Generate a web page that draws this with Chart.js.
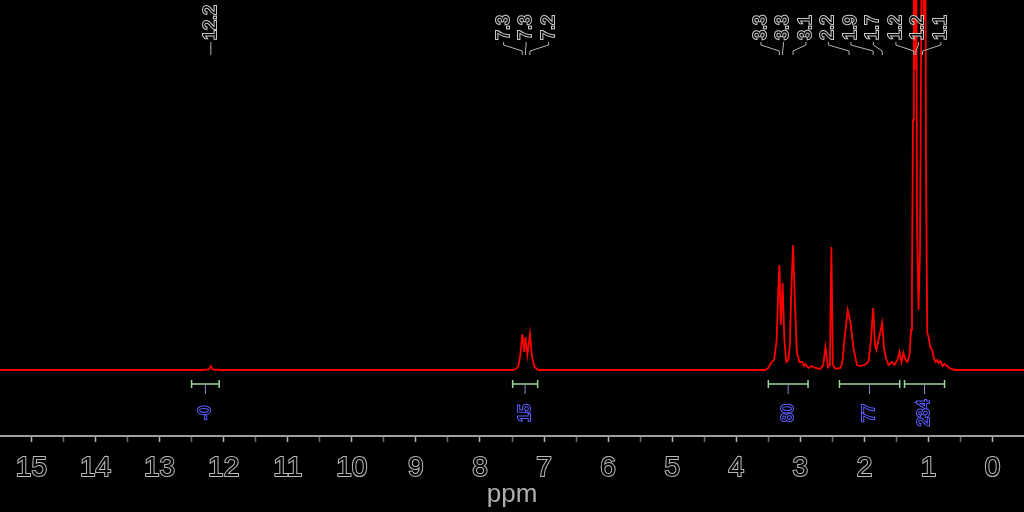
<!DOCTYPE html>
<html>
<head>
<meta charset="utf-8">
<script src="https://cdn.jsdelivr.net/npm/chart.js@4.4.0/dist/chart.umd.min.js"></script>
<style>
  html, body { margin: 0; padding: 0; background: #000; }
  canvas { display: block; }
</style>
</head>
<body>
<canvas id="nmrChart" width="1024" height="512"></canvas>
<script>
// spectrum trace: shift (ppm) and height above the baseline
const shiftPpm = [
  15.5,
  12.35, 12.23, 12.2, 12.17, 12.05,
  7.5, 7.44, 7.4, 7.37, 7.34, 7.31, 7.29, 7.26, 7.22, 7.19, 7.15, 7.09,
  3.55, 3.5, 3.45, 3.41, 3.37, 3.344, 3.328, 3.305, 3.277, 3.25, 3.219, 3.188,
  3.164, 3.141, 3.114, 3.086, 3.055, 3.016, 2.973, 2.945, 2.922, 2.875, 2.828,
  2.766, 2.688, 2.641, 2.609, 2.57, 2.539, 2.516, 2.492, 2.453,
  2.375, 2.344, 2.305, 2.261, 2.219, 2.172, 2.117, 2.063, 2.0,
  1.938, 1.898, 1.864, 1.836, 1.813, 1.781, 1.723, 1.695, 1.664, 1.625,
  1.567, 1.531, 1.484, 1.453, 1.422, 1.391, 1.359, 1.328, 1.297,
  1.273, 1.258, 1.242, 1.23, 1.216, 1.198, 1.18, 1.156, 1.133, 1.109,
  1.094, 1.075, 1.055, 1.039, 1.02, 1.0, 0.969, 0.942, 0.922,
  0.891, 0.864, 0.844, 0.813, 0.781, 0.75, 0.708, 0.656, 0.578,
  -0.5
];
const intensity = [
  0,
  0, 0.5, 4, 0.5, 0,
  0, 1, 4, 15, 36, 18, 33, 15, 36, 14, 3, 0,
  0, 2, 8, 10, 30, 80, 105, 45, 87, 30, 8, 10,
  25, 80, 125, 70, 18, 8, 8, 4, 6, 2, 4,
  2, 1, 5, 23, 3, 5, 123, 5, 1,
  2, 8, 35, 60, 48, 22, 5, 4, 5,
  8, 30, 62, 25, 20, 30, 47, 22, 12, 5,
  8, 5, 10, 18, 8, 17, 10, 8, 15,
  40, 85, 250, 700, 300, 650, 150, 60, 120, 400,
  620, 350, 560, 200, 37, 33, 22, 20, 13,
  8, 10, 7, 9, 4, 6, 4, 1, 0,
  0
];

// peak picking
const peakLabels = ['12.2', '7.3', '7.3', '7.2', '3.3', '3.3', '3.1', '2.2', '1.9', '1.7', '1.2', '1.2', '1.1'];
const peakShifts = [12.2, 7.34, 7.29, 7.22, 3.328, 3.277, 3.114, 2.24, 1.864, 1.723, 1.23, 1.198, 1.094];

// integral regions
const integralFrom = [12.5, 7.49, 3.5, 2.39, 1.375];
const integralTo = [12.07, 7.1, 2.88, 1.45, 0.75];
const integralValues = ['-0', '15', '80', '77', '234'];

function hollowText(ctx, text, x, y, stroke, align, size) {
  ctx.save();
  ctx.translate(x, y);
  ctx.rotate(-Math.PI / 2);
  ctx.textAlign = align;
  ctx.textBaseline = 'middle';
  ctx.font = size + 'px "Liberation Sans"';
  ctx.lineWidth = 2;
  ctx.strokeStyle = stroke;
  ctx.strokeText(text, 0, 0);
  ctx.fillStyle = '#000';
  ctx.fillText(text, 0, 0);
  ctx.restore();
}

const peakLabelPlugin = {
  id: 'peakLabels',
  afterDatasetsDraw(chart) {
    const ctx = chart.ctx;
    const xs = chart.scales.x;
    const gap = 22.5;
    const px = peakShifts.map(v => xs.getPixelForValue(v));
    // spread labels so they don't collide, each cluster centred on its peaks
    let groups = px.map((p, i) => [i]);
    const centre = g => (px[g[0]] + px[g[g.length - 1]]) / 2;
    let merged = true;
    while (merged) {
      merged = false;
      for (let i = 0; i < groups.length - 1; i++) {
        const a = groups[i], b = groups[i + 1];
        const aRight = centre(a) + (a.length - 1) * gap / 2;
        const bLeft = centre(b) - (b.length - 1) * gap / 2;
        if (bLeft - aRight < gap) {
          groups.splice(i, 2, a.concat(b));
          merged = true;
          break;
        }
      }
    }
    ctx.save();
    ctx.strokeStyle = '#b4b4b4';
    ctx.lineWidth = 1;
    groups.forEach(g => {
      const c = centre(g);
      g.forEach((idx, k) => {
        const lx = c + (k - (g.length - 1) / 2) * gap;
        ctx.beginPath();
        ctx.moveTo(lx, 42);
        ctx.lineTo(lx, 45);
        ctx.lineTo(px[idx], 51);
        ctx.lineTo(px[idx], 55);
        ctx.stroke();
        hollowText(ctx, peakLabels[idx], lx, 40, '#c8c8c8', 'left', 18);
      });
    });
    ctx.restore();
  }
};

const integralPlugin = {
  id: 'integrals',
  afterDatasetsDraw(chart) {
    const ctx = chart.ctx;
    const xs = chart.scales.x;
    const y = 384;
    ctx.save();
    integralFrom.forEach((from, i) => {
      const x1 = xs.getPixelForValue(from);
      const x2 = xs.getPixelForValue(integralTo[i]);
      const cx = (x1 + x2) / 2;
      ctx.strokeStyle = '#9fd49f';
      ctx.lineWidth = 1.5;
      ctx.beginPath();
      ctx.moveTo(x1, y); ctx.lineTo(x2, y);
      ctx.moveTo(x1, y - 4); ctx.lineTo(x1, y + 4);
      ctx.moveTo(x2, y - 4); ctx.lineTo(x2, y + 4);
      ctx.stroke();
      ctx.strokeStyle = '#8c8cc8';
      ctx.lineWidth = 1;
      ctx.beginPath();
      ctx.moveTo(cx, y); ctx.lineTo(cx, y + 10);
      ctx.stroke();
      hollowText(ctx, integralValues[i], cx, 413, '#5a5aff', 'center', 16);
    });
    ctx.restore();
  }
};

const ctx = document.getElementById('nmrChart').getContext('2d');
const nmrChart = new Chart(ctx, {
  type: 'line',
  data: {
    datasets: [
      {
        data: shiftPpm.map((v, i) => ({ x: v, y: intensity[i] })),
        borderColor: '#ff0000',
        borderWidth: 1.8,
        pointRadius: 0,
        tension: 0,
        fill: false,
      },
    ],
  },
  options: {
    responsive: false,
    animation: false,
    devicePixelRatio: 1,
    layout: { padding: 0 },
    plugins: {
      legend: { display: false },
      tooltip: { enabled: false },
    },
    scales: {
      x: {
        type: 'linear',
        reverse: true,
        min: -0.49,
        max: 15.49,
        afterFit: s => { s.height = 76; },
        border: { display: true, color: '#a0a0a0', width: 2 },
        grid: {
          display: true,
          drawOnChartArea: false,
          tickLength: 6,
          tickWidth: 1.5,
          tickColor: c => (Number.isInteger(c.tick.value) ? '#b0b0b0' : '#707070'),
        },
        ticks: {
          stepSize: 0.5,
          autoSkip: false,
          maxRotation: 0,
          includeBounds: false,
          padding: 9,
          color: '#000',
          textStrokeColor: '#b8b8b8',
          textStrokeWidth: 2,
          font: { family: 'Liberation Sans', size: 28 },
          callback: v => (Number.isInteger(v) ? String(v) : ''),
        },
        title: {
          display: true,
          text: 'ppm',
          color: '#b0b0b0',
          font: { family: 'Liberation Sans', size: 26 },
          padding: { top: 0, bottom: 2 },
        },
      },
      y: {
        display: false,
        min: -66,
        max: 370,
      },
    },
  },
  plugins: [peakLabelPlugin, integralPlugin],
});
</script>
</body>
</html>
